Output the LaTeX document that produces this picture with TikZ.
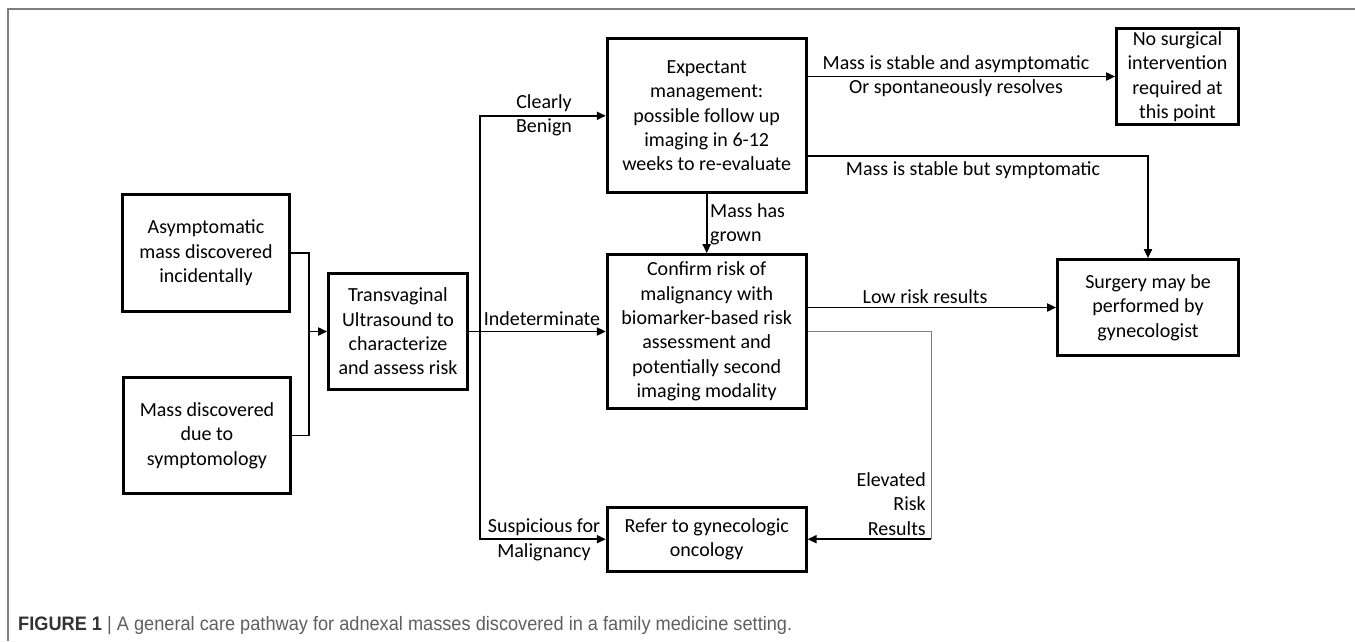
\documentclass[tikz,border=0pt]{standalone}
\usepackage{fontspec}
\setmainfont{Carlito}
\newfontfamily\capfont{Liberation Sans}
\usepackage{graphicx}
\usepackage{xcolor}
\usetikzlibrary{arrows.meta, positioning}
\definecolor{framegray}{RGB}{125,125,125}
\definecolor{capgray}{RGB}{95,95,95}
\tikzstyle{box}      = [rectangle, draw=black, line width=2.7pt,
    align=center, inner sep=2pt, font=\fontsize{20}{24.4}\selectfont]
\tikzstyle{lbl}      = [inner sep=0pt, align=center,
    font=\fontsize{20}{24.4}\selectfont]
\tikzstyle{link}     = [line width=1.8pt]
\tikzstyle{arrow}    = [link, -{Triangle[length=9pt, width=8pt]}]
\tikzstyle{thinlink} = [draw=gray, line width=0.9pt]

\begin{document}
\begin{tikzpicture}[x=1pt, y=-1pt]
  \useasboundingbox (0,0) rectangle (1355,641);

  % Frame
  \draw[framegray, line width=1.5pt] (1355,9) -- (8,9) -- (8,641);

  % Discovery
  \node[box, minimum width=167pt, minimum height=117pt] (asym) at (206,253)
    {Asymptomatic\\mass discovered\\incidentally};
  \node[box, minimum width=167pt, minimum height=116pt] (symp) at (207,435.5)
    {Mass discovered\\due to\\symptomology};
  \node[box, minimum width=139pt, minimum height=116pt] (tvus) at (398,331.5)
    {Transvaginal\\Ultrasound to\\characterize\\and assess risk};

  % Middle column
  \node[box, minimum width=199pt, minimum height=154pt, right=137pt of tvus] (confirm)
    {Confirm risk of\\malignancy with\\biomarker-based risk\\assessment and\\potentially second\\imaging modality};
  \node[box, minimum width=199pt, minimum height=154pt, above=59pt of confirm] (expect)
    {Expectant\\management:\\possible follow up\\imaging in 6-12\\weeks to re-evaluate};
  \node[box, minimum width=199pt, minimum height=64pt, below=96pt of confirm] (refer)
    {Refer to gynecologic\\oncology};

  % Outcomes
  \node[box, inner ysep=0pt, minimum width=122pt, minimum height=96pt] (nosurg) at (1177.5,76.5)
    {No surgical\\intervention\\required at\\this point};
  \node[box, minimum width=181pt, minimum height=96pt] (surgery) at (1148,307.5)
    {Surgery may be\\performed by\\gynecologist};

  % Junctions
  \coordinate (merge) at (309,331.5);
  \coordinate (split) at (480,331.5);
  \coordinate (elevturn) at (931,331);

  \draw[link] (asym.east) -| (merge);
  \draw[link] (symp.east) -| (merge);
  \draw[arrow] (merge) -- (tvus.west);
  \draw[arrow] (tvus.east) -- (confirm.west);
  \draw[arrow] (split) |- (expect.west);
  \draw[arrow] (split) |- (refer.west);
  \draw[arrow] (expect.east |- nosurg.west) -- (nosurg.west);
  \draw[arrow] ([yshift=-40.5pt]expect.east) -| (surgery.north);
  \draw[arrow] (expect) -- (confirm);
  \draw[arrow] (confirm.east |- surgery.west) -- (surgery.west);
  \draw[thinlink] (confirm.east |- elevturn) -- (elevturn) -- (elevturn |- refer.east);
  \draw[arrow] (elevturn |- refer.east) -- (refer.east);

  % Labels
  \node[lbl] (benign) at (544,115) {Clearly\\Benign};
  \node[lbl] (indet) at (542,319) {Indeterminate};
  \node[lbl] (suspic) at (544,540) {Suspicious for\\Malignancy};
  \node[lbl, align=left, anchor=west] (grown) at (710,224) {Mass has\\grown};
  \node[lbl] (stable) at (956,76) {Mass is stable and asymptomatic\\Or spontaneously resolves};
  \node[lbl] (sympt) at (973,170) {Mass is stable but symptomatic};
  \node[lbl] (lowrisk) at (925,297) {Low risk results};
  \node[lbl, align=right, anchor=east] (elev) at (926,504) {Elevated\\Risk\\Results};

  % Caption
  \node[anchor=base west, inner sep=0pt, text=capgray] (caption) at (18,630)
    {\resizebox{774pt}{\height}{\capfont\fontsize{19.5}{23}\selectfont
      {\color{black!80}\textbf{FIGURE 1}} | A general care pathway for adnexal masses discovered in a family medicine setting.}};
\end{tikzpicture}
\end{document}
